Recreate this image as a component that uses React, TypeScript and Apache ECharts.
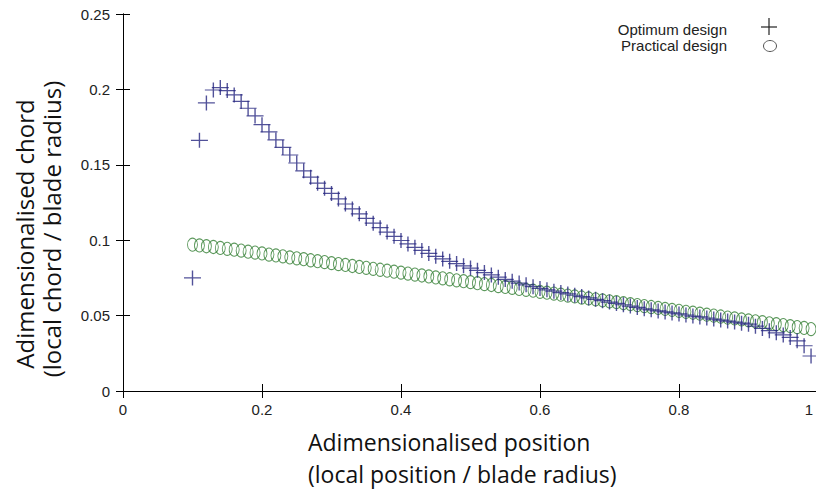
import React, { useEffect, useRef } from 'react';
import * as echarts from 'echarts';

// Adimensionalised radial positions (local position / blade radius)
const positions = [
  0.10, 0.11, 0.12, 0.13, 0.14, 0.15, 0.16, 0.17, 0.18, 0.19,
  0.20, 0.21, 0.22, 0.23, 0.24, 0.25, 0.26, 0.27, 0.28, 0.29,
  0.30, 0.31, 0.32, 0.33, 0.34, 0.35, 0.36, 0.37, 0.38, 0.39,
  0.40, 0.41, 0.42, 0.43, 0.44, 0.45, 0.46, 0.47, 0.48, 0.49,
  0.50, 0.51, 0.52, 0.53, 0.54, 0.55, 0.56, 0.57, 0.58, 0.59,
  0.60, 0.61, 0.62, 0.63, 0.64, 0.65, 0.66, 0.67, 0.68, 0.69,
  0.70, 0.71, 0.72, 0.73, 0.74, 0.75, 0.76, 0.77, 0.78, 0.79,
  0.80, 0.81, 0.82, 0.83, 0.84, 0.85, 0.86, 0.87, 0.88, 0.89,
  0.90, 0.91, 0.92, 0.93, 0.94, 0.95, 0.96, 0.97, 0.98, 0.99,
];

// Optimum design chord (local chord / blade radius)
const optimumChord = [
  0.0750, 0.1662, 0.1910, 0.1996, 0.2012, 0.1992, 0.1963, 0.1920, 0.1875, 0.1824,
  0.1766, 0.1718, 0.1665, 0.1615, 0.1565, 0.1512, 0.1460, 0.1418, 0.1378, 0.1344,
  0.1310, 0.1274, 0.1240, 0.1207, 0.1175, 0.1144, 0.1113, 0.1083, 0.1054, 0.1026,
  0.0998, 0.0975, 0.0953, 0.0932, 0.0912, 0.0893, 0.0876, 0.0860, 0.0845, 0.0830,
  0.0815, 0.0800, 0.0785, 0.0770, 0.0755, 0.0740, 0.0728, 0.0716, 0.0704, 0.0692,
  0.0680, 0.0671, 0.0662, 0.0653, 0.0644, 0.0635, 0.0626, 0.0617, 0.0608, 0.0599,
  0.0590, 0.0581, 0.0572, 0.0563, 0.0554, 0.0545, 0.0538, 0.0531, 0.0524, 0.0518,
  0.0511, 0.0504, 0.0497, 0.0491, 0.0484, 0.0477, 0.0470, 0.0464, 0.0457, 0.0450,
  0.0443, 0.0430, 0.0415, 0.0400, 0.0386, 0.0372, 0.0355, 0.0333, 0.0300, 0.0232,
];

// Practical design chord (local chord / blade radius)
const practicalChord = [
  0.0970, 0.0965, 0.0960, 0.0955, 0.0949, 0.0943, 0.0937, 0.0931, 0.0924, 0.0918,
  0.0912, 0.0905, 0.0899, 0.0893, 0.0886, 0.0880, 0.0874, 0.0867, 0.0861, 0.0855,
  0.0848, 0.0842, 0.0836, 0.0829, 0.0823, 0.0817, 0.0810, 0.0804, 0.0798, 0.0791,
  0.0785, 0.0779, 0.0772, 0.0766, 0.0760, 0.0753, 0.0747, 0.0741, 0.0734, 0.0728,
  0.0722, 0.0715, 0.0709, 0.0703, 0.0696, 0.0690, 0.0684, 0.0677, 0.0671, 0.0665,
  0.0658, 0.0652, 0.0646, 0.0639, 0.0633, 0.0627, 0.0620, 0.0614, 0.0608, 0.0601,
  0.0595, 0.0589, 0.0582, 0.0576, 0.0570, 0.0563, 0.0557, 0.0551, 0.0544, 0.0538,
  0.0532, 0.0525, 0.0519, 0.0513, 0.0506, 0.0500, 0.0494, 0.0487, 0.0481, 0.0475,
  0.0468, 0.0462, 0.0456, 0.0449, 0.0443, 0.0437, 0.0430, 0.0424, 0.0418, 0.0411,
];

const xTickLabels = ['0', '0.2', '0.4', '0.6', '0.8', '1'];
const yTickLabels = ['0', '0.05', '0.1', '0.15', '0.2', '0.25'];
const seriesNames = ['Optimum design', 'Practical design'];

const TICK_FONT = "'Liberation Sans', Arial, sans-serif";
const TITLE_FONT = "'Open Sans', 'Noto Sans', sans-serif";
const CROSS_COLOR = '#262680';
const CIRCLE_COLOR = '#357f35';

export default function App() {
  const ref = useRef<HTMLDivElement>(null);

  useEffect(() => {
    if (!ref.current) return;
    const chart = echarts.init(ref.current, undefined, { renderer: 'svg' });

    const optimumData = positions.map((x, i) => [x, optimumChord[i]]);
    const practicalData = positions.map((x, i) => [x, practicalChord[i]]);

    const axisCommon = {
      type: 'value' as const,
      axisLine: { show: true, lineStyle: { color: '#000', width: 1 } },
      axisTick: { show: true, inside: true, length: 7, lineStyle: { color: '#000', width: 1 } },
      splitLine: { show: false },
    };

    chart.setOption({
      animation: false,
      backgroundColor: '#fff',
      grid: {
        left: 123,
        top: 14,
        width: 695,
        height: 377,
        containLabel: false,
        outerBoundsMode: 'none',
      },
      xAxis: [
        {
          ...axisCommon,
          position: 'bottom',
          min: 0,
          max: 1,
          interval: 0.2,
          axisLabel: {
            show: true,
            color: '#222',
            fontFamily: TICK_FONT,
            fontSize: 15,
            margin: 11,
            alignMaxLabel: 'right',
            formatter: (v: number) => {
              const idx = Math.round(v / 0.2);
              const label = xTickLabels[idx] ?? String(v);
              return idx === xTickLabels.length - 1 ? `{last|${label}}` : label;
            },
            rich: {
              last: {
                color: '#222',
                fontFamily: TICK_FONT,
                fontSize: 15,
                padding: [0, 5, 0, 0],
              },
            },
          },
        },
        {
          ...axisCommon,
          position: 'top',
          min: 0,
          max: 1,
          interval: 0.2,
          axisLabel: { show: false },
        },
      ],
      yAxis: [
        {
          ...axisCommon,
          position: 'left',
          min: 0,
          max: 0.25,
          interval: 0.05,
          axisLabel: {
            show: true,
            color: '#222',
            fontFamily: TICK_FONT,
            fontSize: 15,
            margin: 13,
            formatter: (v: number) => yTickLabels[Math.round(v / 0.05)] ?? String(v),
          },
        },
        {
          ...axisCommon,
          position: 'right',
          min: 0,
          max: 0.25,
          interval: 0.05,
          axisLabel: { show: false },
        },
      ],
      series: [
        {
          name: seriesNames[1],
          type: 'scatter',
          data: practicalData,
          symbol: 'circle',
          symbolSize: [10, 13],
          itemStyle: { color: 'rgba(0,0,0,0)', borderColor: CIRCLE_COLOR, borderWidth: 1 },
          z: 2,
        },
        {
          name: seriesNames[0],
          type: 'scatter',
          data: optimumData,
          symbol: 'path://M0,8H16M8,0V16',
          symbolSize: [17, 15],
          itemStyle: { color: 'rgba(0,0,0,0)', borderColor: CROSS_COLOR, borderWidth: 1.3 },
          z: 3,
        },
      ],
      graphic: [
        {
          type: 'text',
          x: 308,
          y: 442,
          style: {
            text: 'Adimensionalised position',
            fontFamily: TITLE_FONT,
            fontSize: 23,
            fill: '#111',
            textAlign: 'left',
            textVerticalAlign: 'middle',
          },
        },
        {
          type: 'text',
          x: 308,
          y: 474,
          style: {
            text: '(local position / blade radius)',
            fontFamily: TITLE_FONT,
            fontSize: 23,
            fill: '#111',
            textAlign: 'left',
            textVerticalAlign: 'middle',
          },
        },
        {
          type: 'text',
          x: 24,
          y: 234,
          rotation: Math.PI / 2,
          style: {
            text: 'Adimensionalised chord',
            fontFamily: TITLE_FONT,
            fontSize: 24,
            fill: '#111',
            textAlign: 'center',
            textVerticalAlign: 'middle',
          },
        },
        {
          type: 'text',
          x: 51,
          y: 229,
          rotation: Math.PI / 2,
          style: {
            text: '(local chord / blade radius)',
            fontFamily: TITLE_FONT,
            fontSize: 24,
            fill: '#111',
            textAlign: 'center',
            textVerticalAlign: 'middle',
          },
        },
        {
          type: 'text',
          x: 727,
          y: 29,
          style: {
            text: seriesNames[0],
            fontFamily: TICK_FONT,
            fontSize: 15,
            fill: '#222',
            textAlign: 'right',
            textVerticalAlign: 'middle',
          },
        },
        {
          type: 'text',
          x: 727,
          y: 45,
          style: {
            text: seriesNames[1],
            fontFamily: TICK_FONT,
            fontSize: 15,
            fill: '#222',
            textAlign: 'right',
            textVerticalAlign: 'middle',
          },
        },
        {
          type: 'line',
          shape: { x1: 761, y1: 27, x2: 777, y2: 27 },
          style: { stroke: '#222', lineWidth: 1.2 },
        },
        {
          type: 'line',
          shape: { x1: 769, y1: 18, x2: 769, y2: 35 },
          style: { stroke: '#222', lineWidth: 1.2 },
        },
        {
          type: 'ellipse',
          shape: { cx: 770, cy: 46, rx: 6.5, ry: 5.5 },
          style: { fill: 'none', stroke: '#555', lineWidth: 1 },
        },
      ],
    });

    return () => {
      chart.dispose();
    };
  }, []);

  return <div ref={ref} style={{ width: 816, height: 492, position: 'absolute', left: 0, top: 0 }} />;
}
